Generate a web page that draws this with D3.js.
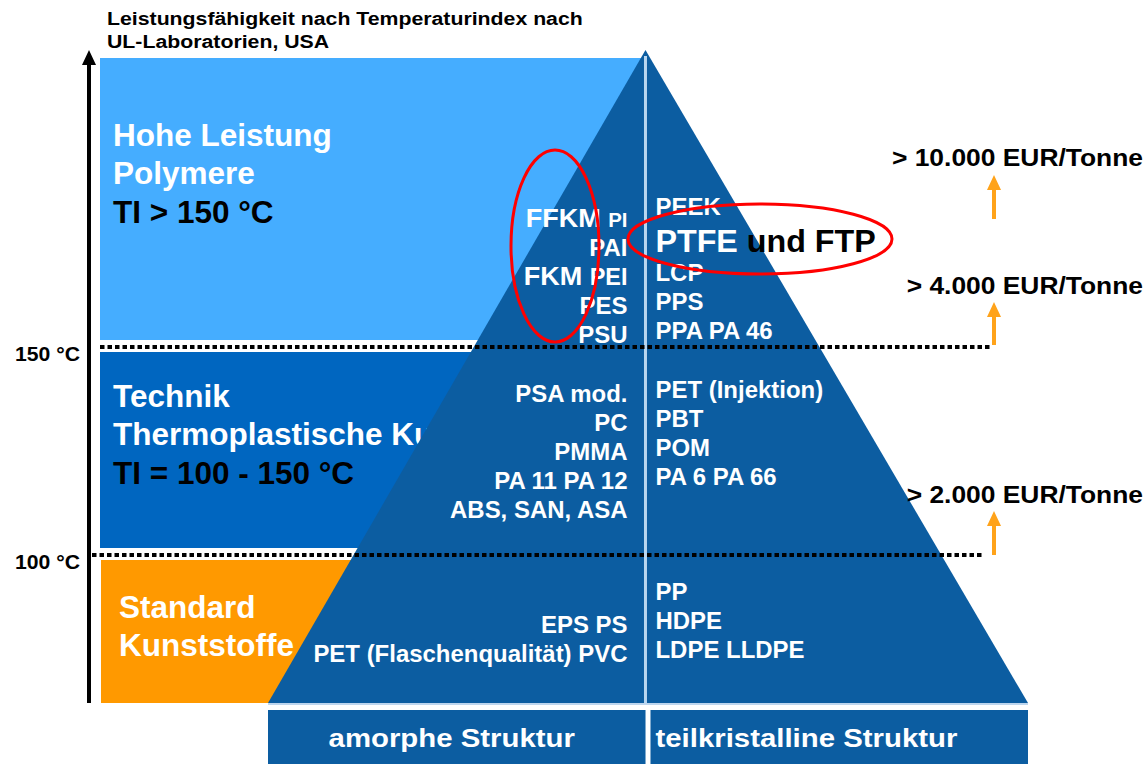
<!DOCTYPE html>
<html>
<head>
<meta charset="utf-8">
<script src="https://cdn.jsdelivr.net/npm/d3@7"></script>
<style>
  body { margin: 0; background: #fff; }
  text { font-family: "Liberation Sans", Arial, sans-serif; font-weight: bold; }
</style>
</head>
<body>
<svg id="chart" width="1147" height="764"></svg>
<script>
// TI-Grenzen (°C) und Beschriftung der Achse
var tiLimits = [100, 150];
var tiLabels = ["100 °C", "150 °C"];

// Stufen von unten nach oben
var tierNames = [["Standard", "Kunststoffe"], ["Technik", "Thermoplastische Kunststoffe"], ["Hohe Leistung", "Polymere"]];
var tierTI = ["", "TI = 100 - 150 °C", "TI > 150 °C"];
var tierColors = ["#ff9900", "#0066c0", "#45adff"];

var amorph = [
    ["EPS PS", "PET (Flaschenqualität) PVC"],
    ["PSA mod.", "PC", "PMMA", "PA 11 PA 12", "ABS, SAN, ASA"],
    ["FFKM PI", "PAI", "FKM PEI", "PES", "PSU"]
];
var teilkrist = [
    ["PP", "HDPE", "LDPE LLDPE"],
    ["PET (Injektion)", "PBT", "POM", "PA 6 PA 66"],
    ["PEEK", "PTFE und FTP", "LCP", "PPS", "PPA PA 46"]
];
var marked = ["FFKM", "FKM", "PTFE"];
var prices = ["> 2.000 EUR/Tonne", "> 4.000 EUR/Tonne", "> 10.000 EUR/Tonne"];
var structures = ["amorphe Struktur", "teilkristalline Struktur"];
var title = ["Leistungsfähigkeit nach Temperaturindex nach", "UL-Laboratorien, USA"];

var svg = d3.select("#chart");
var pyrColor = "#0c5da1";

var y = d3.scaleLinear().domain(tiLimits).range([555, 347]);
var x = d3.scaleBand().domain(structures).range([268, 1028]).paddingInner(0.013);
var yTop = 58, yBase = 703, yApex = 50;
var xMid = x(structures[1]) - 5;

// Text helper (mit horizontaler Streckung)
function txt(g, px, py, s, size, fill, anchor, sx) {
    return g.append("text")
        .attr("transform", "translate(" + px + "," + py + ") scale(" + (sx || 1) + ",1)")
        .attr("font-size", size)
        .attr("fill", fill)
        .attr("text-anchor", anchor || "start")
        .text(s);
}

// Titel
title.forEach(function(t, i) { txt(svg, 107, 25 + i * 23, t, 19, "#000", "start", 1.12); });

// Stufen-Rechtecke
var bounds = [[y(100) + 5, yBase], [y(150) + 5, y(100) - 7], [yTop, y(150) - 7]];
tierColors.forEach(function(c, i) {
    svg.append("rect")
        .attr("x", i === 0 ? 101 : 100).attr("y", bounds[i][0])
        .attr("width", xMid - (i === 0 ? 101 : 100)).attr("height", bounds[i][1] - bounds[i][0])
        .attr("fill", c);
});

// Stufen-Beschriftung
var nameY = [618, 407, 146];
var nameX = [119, 113, 113];
tierNames.forEach(function(lines, i) {
    lines.forEach(function(l, j) { txt(svg, nameX[i], nameY[i] + j * 38, l, 31.5, "#fff"); });
    if (tierTI[i]) txt(svg, nameX[i], nameY[i] + 77, tierTI[i], 31.5, "#000");
});

// Pyramide
var pyr = [[xMid, yApex], [x(structures[0]), yBase], [x(structures[1]) + x.bandwidth(), yBase]];
svg.append("path")
    .attr("d", d3.line()(pyr) + "Z")
    .attr("fill", pyrColor);
svg.append("line")
    .attr("x1", x(structures[0])).attr("x2", x(structures[1]) + x.bandwidth())
    .attr("y1", yBase + 1).attr("y2", yBase + 1)
    .attr("stroke", "#a9c9e8").attr("stroke-width", 1.5);
svg.append("line")
    .attr("x1", xMid).attr("x2", xMid)
    .attr("y1", yApex + 6).attr("y2", yBase)
    .attr("stroke", "#b8d6f0").attr("stroke-width", 3);

// Kunststoffe in der Pyramide
var gap = 29;
var amorphY = [633, 402, 227];
var teilY = [600, 398, 215];
amorph.forEach(function(lines, i) {
    lines.forEach(function(l, j) {
        var t = txt(svg, xMid - 18, amorphY[i] + j * gap, "", 23.5, "#fff", "end", 1.02);
        var w = l.split(" ");
        if (marked.indexOf(w[0]) >= 0) {
            t.append("tspan").attr("font-size", 26.5).text(w[0] + " ");
            t.append("tspan").attr("font-size", w[1] === "PI" ? 20 : 23).text(w.slice(1).join(" "));
        } else t.text(l);
    });
});
teilkrist.forEach(function(lines, i) {
    var big = lines.some(function(l) { return marked.indexOf(l.split(" ")[0]) >= 0; });
    lines.forEach(function(l, j) {
        var py = teilY[i] + j * gap + (big && j > 0 ? 8 : 0);
        var w = l.split(" ");
        if (marked.indexOf(w[0]) >= 0) {
            var t = txt(svg, xMid + 10, py, "", 31, "#fff", "start", 1.04);
            t.append("tspan").text(w[0] + " ");
            t.append("tspan").attr("fill", "#000").text(w.slice(1).join(" "));
        } else txt(svg, xMid + 10, py, l, 23.5, "#fff", "start", 1.02);
    });
});

// gepunktete TI-Linien
tiLimits.forEach(function(t, i) {
    svg.append("line")
        .attr("x1", i === 0 ? 92 : 100).attr("x2", i === 0 ? 984 : 990)
        .attr("y1", y(t)).attr("y2", y(t))
        .attr("stroke", "#000").attr("stroke-width", 4)
        .attr("stroke-dasharray", "4.5,3");
    txt(svg, 15, y(t) + 14, tiLabels[i], 20, "#000", "start", 1.06);
});

// Achse mit Pfeil
svg.append("line")
    .attr("x1", 89).attr("x2", 89).attr("y1", yBase).attr("y2", yApex + 12)
    .attr("stroke", "#000").attr("stroke-width", 4);
svg.append("path")
    .attr("d", d3.line()([[89, yApex], [82, yApex + 15], [96, yApex + 15]]) + "Z")
    .attr("fill", "#000");

// Preise mit Pfeilen
var priceY = [503, 294, 166];
var arrowY = [[555, 511], [345, 302], [219, 175]];
prices.forEach(function(p, i) {
    txt(svg, 1143, priceY[i], p, 24, "#000", "end", 1.1);
    var a = arrowY[i];
    svg.append("line")
        .attr("x1", 994).attr("x2", 994).attr("y1", a[0]).attr("y2", a[1] + 12)
        .attr("stroke", "#ffa31a").attr("stroke-width", 4);
    svg.append("path")
        .attr("d", d3.line()([[994, a[1]], [987, a[1] + 15], [1001, a[1] + 15]]) + "Z")
        .attr("fill", "#ffa31a");
});

// Markierungen
svg.append("ellipse")
    .attr("cx", 555).attr("cy", 246).attr("rx", 44).attr("ry", 96)
    .attr("fill", "none").attr("stroke", "#ff0000").attr("stroke-width", 3);
svg.append("ellipse")
    .attr("cx", 760).attr("cy", 239).attr("rx", 132).attr("ry", 35)
    .attr("fill", "none").attr("stroke", "#ff0000").attr("stroke-width", 3);

// Struktur-Kästen
structures.forEach(function(s, i) {
    svg.append("rect")
        .attr("x", x(s)).attr("y", 710)
        .attr("width", x.bandwidth()).attr("height", 54)
        .attr("fill", pyrColor);
    if (i === 0) txt(svg, x(s) + x.bandwidth() / 2 - 5, 747, s, 26, "#fff", "middle", 1.13);
    else txt(svg, x(s) + 5, 747, s, 26, "#fff", "start", 1.13);
});
</script>
</body>
</html>
